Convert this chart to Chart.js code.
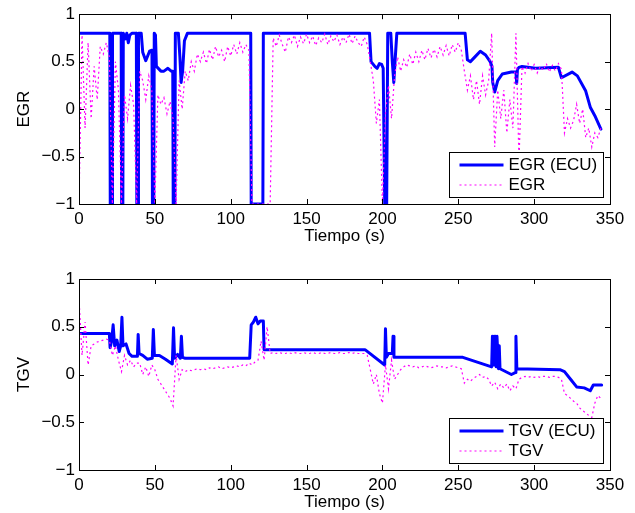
<!DOCTYPE html>
<html>
<head>
<meta charset="utf-8">
<script src="https://cdn.jsdelivr.net/npm/chart.js@4"></script>
<style>
    html, body { margin: 0; padding: 0; background: #fff; }
    #wrap { position: relative; width: 635px; height: 513px; }
    canvas { position: absolute; left: 0; }
</style>
</head>
<body>
<div id="wrap">
    <canvas id="egr-chart" width="635" height="256" style="top:0"></canvas>
    <canvas id="tgv-chart" width="635" height="257" style="top:256px"></canvas>
</div>
<script>
// Axis ticks
const xTicks = [0, 50, 100, 150, 200, 250, 300, 350];
const yTicks = [-1, -0.5, 0, 0.5, 1];

// Sampling interval of the measured (dotted) signals, seconds
const measStep = 2;

// EGR (ECU) - time (s) and value
const egrEcuT = [0, 20.3, 20.6, 21.8, 22.1, 27.8, 28.1, 28.9, 29.2, 30.5, 31.5, 32.5, 33.5, 35, 37.8, 38.1, 38.9, 39.2,
    41, 42, 44, 46.5, 48.1, 48.4, 49.3, 49.6, 50.4, 51, 54, 56, 58.6, 60.8, 61.8, 62.1, 63.2, 63.5, 65.5, 66.5, 67.3,
    68.3, 69.5, 71.5, 113.2, 113.5, 121.2, 121.5, 191.5, 192.5, 195, 196.5, 198, 199.5, 200.5, 201.5, 202.8, 203.5,
    205.5, 206.5, 207.5, 208.5, 209.5, 254.5, 256, 258, 261, 264.5, 268, 271, 272.2, 272.7, 274, 276, 279, 285, 288,
    288.5, 289, 290, 292, 301, 316, 318, 325, 328.5, 334, 337, 340, 344];
const egrEcu = [0.8, 0.8, -1, -1, 0.8, 0.8, -1, -1, 0.8, 0.74, 0.8, 0.7, 0.78, 0.8, 0.8, -1, -1, 0.8,
    0.8, 0.6, 0.51, 0.61, 0.62, -1, -1, 0.8, 0.78, 0.45, 0.4, 0.4, 0.43, 0.4, 0.4, -1, -1, 0.8, 0.8, 0.55, 0.28,
    0.4, 0.72, 0.8, 0.8, -1, -1, 0.8, 0.8, 0.5, 0.45, 0.43, 0.48, 0.47, 0.43, -1, -1, 0.8,
    0.8, 0.5, 0.28, 0.55, 0.8, 0.8, 0.52, 0.5, 0.55, 0.61, 0.57, 0.5, 0.45, 0.28, 0.18, 0.3, 0.37, 0.39, 0.39,
    0.27, 0.42, 0.44, 0.45, 0.43, 0.44, 0.33, 0.39, 0.35, 0.19, 0.02, -0.07, -0.21];

// EGR measured, one value every measStep seconds from t = 0
const egrMeas = [
    -1, 0.78, -0.2, 0.7, -0.1, 0.45, 0.1, 0.66, 0.58, 0.7,
    0.55, -1, 0.5, 0.2, -1, 0.15, -0.1, 0.25, 0.05, -1,
    0.4, 0.3, 0.1, 0.35, 0.2, -1, 0.15, 0.05, 0.12, -0.05,
    0.08, -0.1, -1, 0.3, 0.0, 0.4, 0.3, 0.5, 0.4, 0.58,
    0.5, 0.6, 0.48, 0.63, 0.52, 0.66, 0.55, 0.62, 0.5, 0.66,
    0.56, 0.68, 0.58, 0.7, 0.6, 0.68, 0.62, -1, -1, -1,
    -1, -1, -1, -1, 0.75, 0.66, 0.78, 0.68, 0.6, 0.76,
    0.7, 0.78, 0.66, 0.76, 0.69, 0.79, 0.7, 0.77, 0.67, 0.75,
    0.7, 0.79, 0.68, 0.77, 0.71, 0.78, 0.68, 0.76, 0.7, 0.79,
    0.69, 0.77, 0.7, 0.66, 0.76, 0.68, 0.5, 0.3, -0.15, 0.1,
    -1, -0.05, 0.25, -0.1, 0.35, 0.55, 0.4, 0.52, 0.44, 0.58,
    0.47, 0.6, 0.5, 0.62, 0.52, 0.64, 0.54, 0.63, 0.55, 0.66,
    0.57, 0.67, 0.56, 0.68, 0.6, 0.7, 0.62, 0.4, 0.2, 0.35,
    0.1, 0.3, 0.05, 0.35, 0.15, 0.3, 0.8, -0.4, 0.2, -0.1,
    0.2, -0.25, 0.1, -0.2, 0.8, -0.55, 0.45, 0.38, 0.48, 0.4,
    0.47, 0.38, 0.45, 0.41, 0.48, 0.39, 0.46, 0.4, 0.48, 0.42,
    -0.25, -0.1, -0.2, -0.12, 0.05, -0.15, 0.0, -0.3, -0.2, -0.4,
    -0.25, -0.3, -0.2
];

// TGV (ECU) - time (s) and value
const tgvEcuT = [0, 20, 20.5, 21.5, 22.5, 23.5, 25, 26.5, 27.5, 28.3, 29, 31, 33, 35, 38.5, 39, 39.6, 42, 45, 48.3,
    49, 49.7, 53, 57, 61.5, 62.3, 63, 65, 66.8, 67.5, 68.2, 70, 112.5, 113.5, 115, 116.5, 118, 119.5, 121.5, 122,
    188.5, 201.5, 202, 202.6, 204, 206.5, 207, 207.6, 209, 253, 272, 272.5, 273, 273.5, 274, 274.5, 275, 275.5,
    276.5, 277, 277.5, 285, 287.5, 288, 288.6, 317, 320, 324, 328, 333, 337, 339, 344.5];
const tgvEcu = [0.43, 0.43, 0.28, 0.35, 0.52, 0.3, 0.36, 0.24, 0.3, 0.6, 0.3, 0.32, 0.22, 0.19, 0.19, 0.42, 0.22, 0.2, 0.16, 0.17,
    0.47, 0.2, 0.2, 0.16, 0.11, 0.49, 0.17, 0.21, 0.17, 0.4, 0.18, 0.17, 0.17, 0.52, 0.55, 0.6, 0.53, 0.56, 0.56, 0.26,
    0.26, 0.1, 0.48, 0.18, 0.22, 0.22, 0.4, 0.18, 0.18, 0.18, 0.08, 0.4, 0.1, 0.4, 0.1, 0.4, 0.08, 0.4,
    0.06, 0.3, 0.06, 0.0, 0.02, 0.4, 0.06, 0.05, 0.03, -0.05, -0.13, -0.14, -0.17, -0.11, -0.11];

// TGV measured, one value every measStep seconds from t = 0
const tgvMeas = [
    0.8, 0.2, 0.55, 0.1, 0.3, 0.32, 0.34, 0.35, 0.36, 0.37,
    0.36, 0.2, 0.3, 0.15, 0.03, 0.2, 0.1, 0.15, 0.08, 0.12,
    0.12, 0.0, 0.08, -0.02, 0.1, 0.05, -0.05, -0.1, -0.15, -0.2,
    -0.25, -0.33, 0.2, -0.05, 0.05, 0.03, 0.05, 0.04, 0.05, 0.06,
    0.05, 0.06, 0.05, 0.07, 0.06, 0.07, 0.08, 0.06, 0.07, 0.08,
    0.07, 0.08, 0.09, 0.08, 0.1, 0.09, 0.12, 0.1, 0.13, 0.15,
    0.35, 0.15, 0.5, 0.22, 0.23, 0.22, 0.23, 0.22, 0.22, 0.23,
    0.22, 0.23, 0.22, 0.22, 0.23, 0.22, 0.22, 0.23, 0.22, 0.22,
    0.23, 0.22, 0.22, 0.23, 0.22, 0.22, 0.23, 0.22, 0.22, 0.23,
    0.22, 0.23, 0.22, 0.22, 0.22, 0.2, 0.05, -0.1, 0.0, -0.2,
    -0.3, 0.1, -0.15, 0.15, -0.05, 0.0, 0.05, 0.08, 0.1, 0.09,
    0.08, 0.09, 0.07, 0.08, 0.09, 0.08, 0.07, 0.08, 0.09, 0.08,
    0.08, 0.07, 0.08, 0.09, 0.08, 0.07, 0.06, -0.09, -0.05, -0.07,
    -0.04, -0.02, 0.0, -0.03, -0.02, -0.05, -0.12, -0.08, -0.15, -0.1,
    -0.14, -0.1, -0.17, -0.12, -0.15, -0.05, -0.03, -0.02, -0.03, -0.02,
    -0.03, -0.02, -0.03, -0.02, -0.02, -0.03, -0.02, -0.02, -0.03, -0.05,
    -0.2, -0.22, -0.25, -0.28, -0.3, -0.35, -0.38, -0.4, -0.43, -0.45,
    -0.3, -0.22, -0.25
];

const FONT = '"Liberation Sans", Arial, Helvetica, sans-serif';
const ECU_COLOR = '#0000ff';
const MEAS_COLOR = '#ff00ff';

Chart.defaults.font.family = FONT;
Chart.defaults.font.size = 17;
Chart.defaults.color = '#000';

// MATLAB style box, inward ticks and legend
const matlabAxes = {
    id: 'matlabAxes',
    afterDatasetsDraw(chart, args, opts) {
        const { ctx, chartArea: a } = chart;
        const xs = chart.scales.x;
        const ys = chart.scales.y;
        const tl = 5;

        ctx.save();
        ctx.strokeStyle = '#000';
        ctx.lineWidth = 1;
        ctx.beginPath();
        xTicks.forEach(v => {
            const px = Math.round(xs.getPixelForValue(v)) + 0.5;
            ctx.moveTo(px, a.bottom);
            ctx.lineTo(px, a.bottom - tl);
            ctx.moveTo(px, a.top);
            ctx.lineTo(px, a.top + tl);
        });
        yTicks.forEach(v => {
            const py = Math.round(ys.getPixelForValue(v)) + 0.5;
            ctx.moveTo(a.left, py);
            ctx.lineTo(a.left + tl, py);
            ctx.moveTo(a.right, py);
            ctx.lineTo(a.right - tl, py);
        });
        ctx.stroke();
        ctx.strokeRect(Math.round(a.left) + 0.5, Math.round(a.top) + 0.5,
            Math.round(a.right - a.left), Math.round(a.bottom - a.top));

        // Legend box in the lower right corner
        const w = opts.width, h = opts.height;
        const bx = Math.round(a.right - opts.gap - w) + 0.5;
        const by = Math.round(a.bottom - opts.gap - h) + 0.5;
        ctx.fillStyle = '#fff';
        ctx.fillRect(bx, by, w, h);
        ctx.strokeRect(bx, by, w, h);

        const order = [0, 1];
        order.forEach((i, row) => {
            const ds = chart.data.datasets[i];
            const ly = by + opts.rows[row];
            ctx.beginPath();
            ctx.strokeStyle = ds.borderColor;
            ctx.lineWidth = ds.borderWidth;
            ctx.setLineDash(ds.borderDash || []);
            ctx.moveTo(bx + 10, ly);
            ctx.lineTo(bx + 54, ly);
            ctx.stroke();
            ctx.setLineDash([]);
            ctx.fillStyle = '#000';
            ctx.font = '17px ' + FONT;
            ctx.textBaseline = 'middle';
            ctx.textAlign = 'left';
            ctx.fillText(ds.label, bx + 59, ly);
        });
        ctx.restore();
    }
};

function fmtTick(v) {
    return String(v).replace('-', '\u2212');
}

function buildChart(canvasId, cfg) {
    const ecuData = cfg.ecuT.map((t, i) => ({ x: t, y: cfg.ecu[i] }));
    const measData = cfg.meas.map((v, i) => ({ x: i * measStep, y: v }));

    return new Chart(document.getElementById(canvasId).getContext('2d'), {
        type: 'line',
        data: {
            datasets: [{
                label: cfg.name + ' (ECU)',
                data: ecuData,
                borderColor: ECU_COLOR,
                borderWidth: 3,
                borderJoinStyle: 'round',
                borderCapStyle: 'round',
                pointRadius: 0,
                tension: 0,
                order: 1
            }, {
                label: cfg.name,
                data: measData,
                borderColor: MEAS_COLOR,
                borderWidth: 1.2,
                borderDash: [2, 3],
                pointRadius: 0,
                tension: 0,
                order: 0
            }]
        },
        options: {
            responsive: false,
            animation: false,
            events: [],
            layout: { padding: { top: cfg.top, right: 25, left: 0, bottom: 0 } },
            plugins: {
                legend: { display: false },
                tooltip: { enabled: false },
                matlabAxes: { width: 154, height: 45, gap: 7, rows: [12.5, 32.5] }
            },
            scales: {
                x: {
                    type: 'linear',
                    min: 0,
                    max: 350,
                    afterBuildTicks: s => { s.ticks = xTicks.map(v => ({ value: v })); },
                    afterFit: s => { s.height = cfg.xAxisHeight; },
                    grid: { display: false, drawTicks: false },
                    border: { display: false },
                    ticks: { padding: 5, maxRotation: 0, callback: fmtTick },
                    title: { display: true, text: 'Tiempo (s)', font: { size: 17 }, padding: { top: 0, bottom: cfg.titlePad } }
                },
                y: {
                    type: 'linear',
                    min: -1,
                    max: 1,
                    afterBuildTicks: s => { s.ticks = yTicks.map(v => ({ value: v })); },
                    afterFit: s => { s.width = 79; },
                    grid: { display: false, drawTicks: false },
                    border: { display: false },
                    ticks: { padding: 4, callback: fmtTick },
                    title: { display: true, text: cfg.name, font: { size: 17 }, padding: { top: 14, bottom: 0 } }
                }
            }
        },
        plugins: [matlabAxes]
    });
}

const egrChart = buildChart('egr-chart', {
    name: 'EGR', ecuT: egrEcuT, ecu: egrEcu, meas: egrMeas,
    top: 13, xAxisHeight: 52, titlePad: 9
});

const tgvChart = buildChart('tgv-chart', {
    name: 'TGV', ecuT: tgvEcuT, ecu: tgvEcu, meas: tgvMeas,
    top: 23, xAxisHeight: 43, titlePad: 0
});
</script>
</body>
</html>
